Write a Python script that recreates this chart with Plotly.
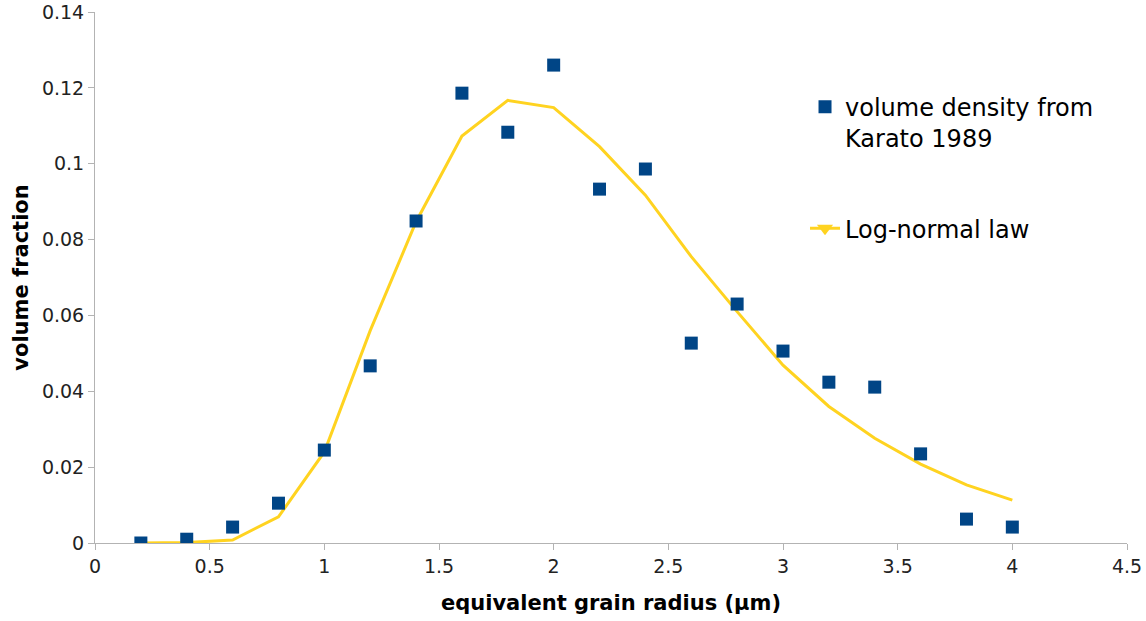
import plotly.graph_objects as go

radius = [0.2, 0.4, 0.6, 0.8, 1.0, 1.2, 1.4, 1.6, 1.8, 2.0, 2.2, 2.4, 2.6, 2.8, 3.0, 3.2, 3.4, 3.6, 3.8, 4.0]
volume_density = [0.0000, 0.0010, 0.0042, 0.0105, 0.0245, 0.0467, 0.0849, 0.1186, 0.1083, 0.1260,
                  0.0933, 0.0986, 0.0527, 0.0630, 0.0506, 0.0424, 0.0411, 0.0235, 0.0063, 0.0042]
lognormal = [0.0000, 0.0001, 0.0008, 0.0069, 0.0240, 0.0560, 0.0847, 0.1073, 0.1167, 0.1148,
             0.1045, 0.0917, 0.0755, 0.0610, 0.0469, 0.0360, 0.0276, 0.0208, 0.0153, 0.0113]

x_ticks = [0, 0.5, 1, 1.5, 2, 2.5, 3, 3.5, 4, 4.5]
x_tick_text = ["0", "0.5", "1", "1.5", "2", "2.5", "3", "3.5", "4", "4.5"]
y_ticks = [0, 0.02, 0.04, 0.06, 0.08, 0.1, 0.12, 0.14]
y_tick_text = ["0", "0.02", "0.04", "0.06", "0.08", "0.1", "0.12", "0.14"]

BLUE = "#004586"
YELLOW = "#FFD320"
FONT = "DejaVu Sans"

fig = go.Figure()
fig.add_trace(go.Scatter(
    x=radius, y=lognormal, mode="lines",
    line=dict(color=YELLOW, width=3),
    showlegend=False, hoverinfo="skip",
))
fig.add_trace(go.Scatter(
    x=radius, y=volume_density, mode="markers",
    marker=dict(symbol="square", size=13, color=BLUE),
    name="volume density from<br>Karato 1989", legendgroup="a",
))
fig.add_trace(go.Scatter(
    x=[None], y=[None], mode="lines+markers",
    line=dict(color=YELLOW, width=3),
    marker=dict(symbol="triangle-down", size=14, color=YELLOW),
    name="Log-normal law", legendgroup="b",
))

axis_common = dict(
    showgrid=False, zeroline=False, showline=True, linecolor="#b3b3b3", linewidth=1,
    ticks="outside", ticklen=6, tickcolor="#b3b3b3", automargin=False,
    ticklabeloverflow="allow",
    tickfont=dict(family=FONT, size=19, color="#222222"),
)

fig.update_layout(
    width=1146, height=621,
    margin=dict(l=95, r=19, t=12, b=78, autoexpand=False),
    paper_bgcolor="white", plot_bgcolor="white",
    font=dict(family=FONT, color="#000000"),
    xaxis=dict(range=[0, 4.5], tickvals=x_ticks, ticktext=x_tick_text,
               title=dict(text="<b>equivalent grain radius (µm)</b>",
                          font=dict(family=FONT, size=21), standoff=19),
               **axis_common),
    yaxis=dict(range=[0, 0.14], tickvals=y_ticks, ticktext=y_tick_text,
               title=dict(text="<b>volume fraction</b>",
                          font=dict(family=FONT, size=21), standoff=7),
               **axis_common),
    legend=dict(
        x=0.688, y=0.863, xanchor="left", yanchor="top",
        font=dict(family=FONT, size=24, color="#000000"),
        tracegroupgap=56, bgcolor="rgba(0,0,0,0)",
        itemwidth=30, valign="top",
    ),
)

fig.write_html("out.html", config={"displayModeBar": False},
               post_script="document.body.style.margin='0';")
